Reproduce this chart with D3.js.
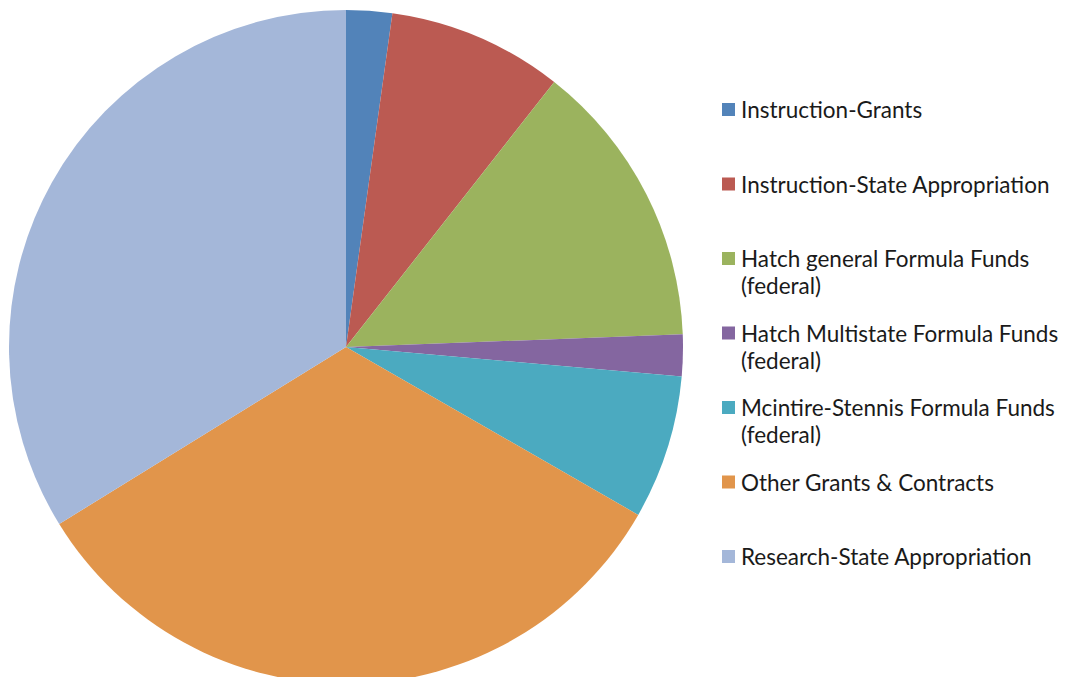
<!DOCTYPE html>
<html>
<head>
<meta charset="utf-8">
<script src="https://cdn.jsdelivr.net/npm/d3@7"></script>
<style>
  body { margin: 0; background: #fff; }
  svg { display: block; }
  .legend text { font-family: Lato, "Open Sans", sans-serif; font-size: 22.5px; fill: #1a1a1a; }
</style>
</head>
<body>
<div id="chart"></div>
<script>
/* DATA */
const categories = [
  "Instruction-Grants",
  "Instruction-State Appropriation",
  "Hatch general Formula Funds\n(federal)",
  "Hatch Multistate Formula Funds\n(federal)",
  "Mcintire-Stennis Formula Funds\n(federal)",
  "Other Grants & Contracts",
  "Research-State Appropriation"
];
// percent shares
const shares = [2.2, 8.4, 13.8, 2.0, 6.9, 32.9, 33.8];
const colors = ["#5283b9", "#bb5a52", "#9bb35e", "#8466a0", "#4baac0", "#e1954b", "#a4b7d9"];

/* LAYOUT */
const width = 1065,
  height = 677,
  cx = 346, cy = 347,
  radius = 337;

const data = categories.map((c, i) => ({ label: c, value: shares[i], color: colors[i] }));

const svg = d3.select("#chart")
  .append("svg")
  .attr("width", width)
  .attr("height", height);

// pie, clockwise from 12 o'clock, in data order
const pie = d3.pie()
  .value(d => d.value)
  .sort(null);

const arc = d3.arc()
  .innerRadius(0)
  .outerRadius(radius);

svg.append("g")
  .attr("transform", `translate(${cx},${cy})`)
  .selectAll("path")
  .data(pie(data))
  .join("path")
  .attr("d", arc)
  .attr("fill", d => d.data.color);

// legend
const legendY = d3.scalePoint()
  .domain(d3.range(data.length))
  .range([110, 557]);

const legend = svg.append("g")
  .attr("class", "legend")
  .selectAll("g")
  .data(data)
  .join("g")
  .attr("transform", (d, i) => `translate(722,${legendY(i)})`);

legend.append("rect")
  .attr("x", 0)
  .attr("y", -7)
  .attr("width", 13)
  .attr("height", 13)
  .attr("fill", d => d.color);

legend.append("text")
  .attr("x", 19)
  .attr("y", 8)
  .selectAll("tspan")
  .data(d => d.label.split("\n"))
  .join("tspan")
  .attr("x", 19)
  .attr("dy", (d, i) => i === 0 ? 0 : 27)
  .text(d => d);
</script>
</body>
</html>
